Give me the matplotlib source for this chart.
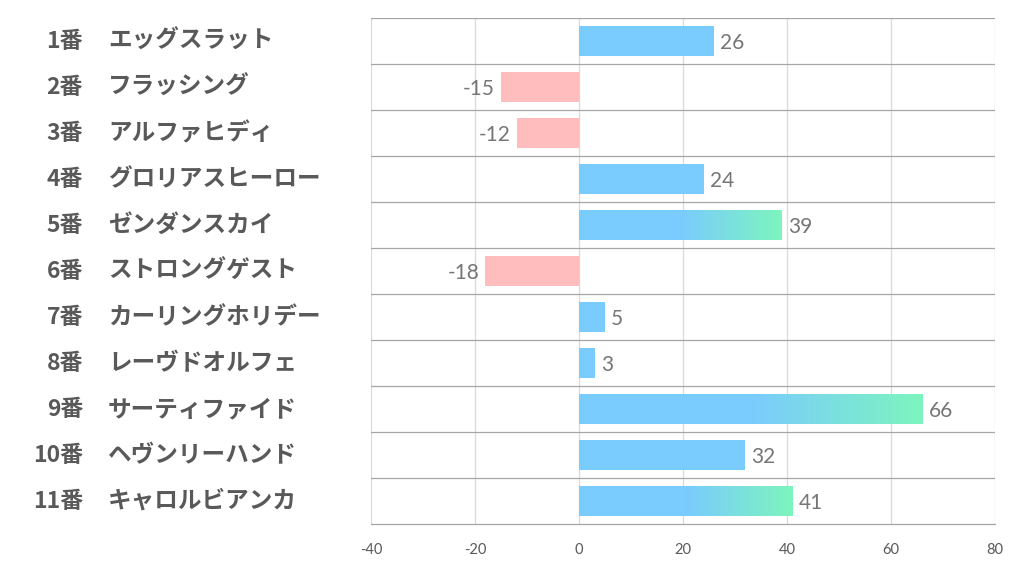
import matplotlib
matplotlib.use("Agg")
import matplotlib.pyplot as plt
import numpy as np
from matplotlib.colors import LinearSegmentedColormap
from matplotlib.transforms import blended_transform_factory

plt.rcParams["font.family"] = ["Noto Sans CJK JP", "DejaVu Sans"]

# data
numbers = ["1番", "2番", "3番", "4番", "5番", "6番", "7番", "8番", "9番", "10番", "11番"]
horses = ["エッグスラット", "フラッシング", "アルファヒディ", "グロリアスヒーロー", "ゼンダンスカイ",
          "ストロングゲスト", "カーリングホリデー", "レーヴドオルフェ", "サーティファイド",
          "ヘヴンリーハンド", "キャロルビアンカ"]
values = [26, -15, -12, 24, 39, -18, 5, 3, 66, 32, 41]
highlight = ["ゼンダンスカイ", "サーティファイド", "キャロルビアンカ"]
xticks = [-40, -20, 0, 20, 40, 60, 80]

BLUE = "#7ACBFE"; GREEN = "#7DF5BE"; PINK = "#FFBDBE"
LABEL = "#595959"; VAL = "#767676"; SEP = "#A6A6A6"; GRID = "#D9D9D9"
NUMFONT = ["Lato", "DejaVu Sans"]
JPFONT = ["Noto Sans CJK JP", "DejaVu Sans"]

fig = plt.figure(figsize=(10.22, 5.74), dpi=100)
ax = fig.add_axes([371 / 1022, 50 / 574, 624 / 1022, 506 / 574])

n = len(values)
h = 0.65
grad = LinearSegmentedColormap.from_list("bg", [BLUE, GREEN])
gimg = np.linspace(0, 1, 256).reshape(1, -1)

for i, (name, v) in enumerate(zip(horses, values)):
    col = BLUE if v >= 0 else PINK
    bar = ax.barh(i, v, height=h, color=col, edgecolor="none", zorder=2)[0]
    if name in highlight:
        im = ax.imshow(gimg, cmap=grad, aspect="auto", interpolation="bicubic",
                       extent=[v * 0.5, v, i + h / 2, i - h / 2], zorder=3)
        im.set_clip_path(bar)
    if v >= 0:
        ax.text(v + 1.2, i + 0.04, str(v), ha="left", va="center", fontsize=15,
                color=VAL, family=NUMFONT, zorder=4)
    else:
        ax.text(v - 1.2, i + 0.04, str(v), ha="right", va="center", fontsize=15,
                color=VAL, family=NUMFONT, zorder=4)

ax.set_xlim(-40, 80)
ax.set_ylim(n - 0.5, -0.5)
ax.set_xticks(xticks)
ax.set_xticklabels([str(t) for t in xticks], fontsize=10.5, color=LABEL, family=NUMFONT)
ax.set_yticks([])
ax.tick_params(axis="x", length=0, pad=14)

for t in xticks:
    ax.axvline(t, color=GRID, lw=0.9, zorder=1)
for k in range(n):
    ax.axhline(k - 0.5, color=SEP, lw=0.9, zorder=1)

for s in ["top", "right", "left"]:
    ax.spines[s].set_visible(False)
ax.spines["bottom"].set_color(SEP)
ax.spines["bottom"].set_linewidth(0.9)

tr = blended_transform_factory(fig.transFigure, ax.transData)
for i, (num, name) in enumerate(zip(numbers, horses)):
    ax.text(83 / 1022, i, num, transform=tr, ha="right", va="center", fontsize=16.5,
            fontweight="bold", color=LABEL, family=JPFONT)
    ax.text(108 / 1022, i, name, transform=tr, ha="left", va="center", fontsize=17,
            fontweight="bold", color=LABEL, family=JPFONT)

fig.savefig("out.png", dpi=100, facecolor="white")
